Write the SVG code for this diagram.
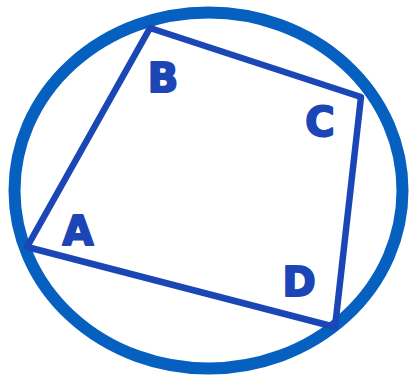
<svg xmlns="http://www.w3.org/2000/svg" width="409" height="377" viewBox="0 0 409 377">
<style>
.circ{fill:none;stroke:#0560bf;stroke-width:12}
.edge{fill:none;stroke:#1a47b5;stroke-width:6.5;stroke-linejoin:round}
.lbl{font-family:"DejaVu Sans",sans-serif;font-weight:bold;font-size:40px;fill:#1c45b5;stroke:#1c45b5;stroke-width:2;stroke-linejoin:round;text-anchor:middle}
</style>
<rect width="409" height="377" fill="#ffffff"/>
<g id="circle"><ellipse class="circ" cx="208.5" cy="190.5" rx="194" ry="178"/></g>
<g id="connectors">
<path class="edge" d="M150,28 L361,97 L335,327 L27,247 Z"/>
</g>
<g id="A"><text class="lbl" x="78" y="245">A</text></g>
<g id="B"><text class="lbl" x="163" y="92">B</text></g>
<g id="C"><text class="lbl" x="320" y="136">C</text></g>
<g id="D"><text class="lbl" x="299" y="296">D</text></g>
</svg>
